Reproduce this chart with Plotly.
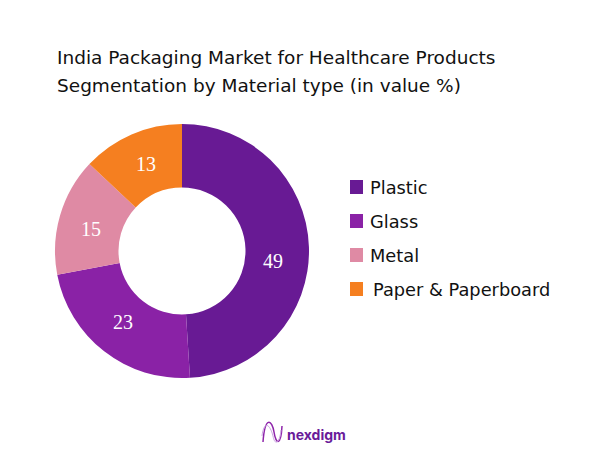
import plotly.graph_objects as go

title_lines = ["India Packaging Market for Healthcare Products",
               "Segmentation by Material type (in value %)"]
materials = ["Plastic", "Glass", "Metal", "Paper & Paperboard"]
shares = [49, 23, 15, 13]
colors = ["#681A94", "#8A22A6", "#DF8AA4", "#F57F20"]

W, H = 602, 451
PAGE_MARGIN = 8  # the page body pushes the plot 8px right and down
TEXT_FONT = "DejaVu Sans"


def px(x):
    return (x - PAGE_MARGIN) / W


def py(y):
    return 1 - (y - PAGE_MARGIN) / H


fig = go.Figure(go.Pie(
    labels=materials,
    values=shares,
    sort=False,
    direction="clockwise",
    rotation=0,
    hole=0.5,
    marker=dict(colors=colors, line=dict(width=0)),
    textinfo="none",
    domain=dict(x=[px(55), px(309)], y=[py(378), py(124)]),
    showlegend=False,
))

# two annotations so the line gap can match
for line, ly in zip(title_lines, [58, 85]):
    fig.add_annotation(text=line, x=px(55), y=py(ly), xref="paper", yref="paper",
                       xanchor="left", yanchor="middle", showarrow=False,
                       font=dict(family=TEXT_FONT, size=18.5, color="#111111"))

# value labels sit off the slice centres in the original
label_x = [273, 123, 91, 146]
label_y = [261, 322, 229, 164]
for share, lx, ly in zip(shares, label_x, label_y):
    fig.add_annotation(text=str(share), x=px(lx), y=py(ly), xref="paper", yref="paper",
                       xanchor="center", yanchor="middle", showarrow=False,
                       font=dict(family="Liberation Serif", size=20, color="white"))

# hand-made legend, the rows are further apart than a plotly legend allows
legend_y = [187, 221, 255, 289]
legend_x = [368, 368, 368, 371]
for name, color, ly, lx in zip(materials, colors, legend_y, legend_x):
    fig.add_shape(type="rect", xref="paper", yref="paper",
                  x0=px(350), x1=px(363), y0=py(ly + 7), y1=py(ly - 7),
                  fillcolor=color, line=dict(width=0))
    fig.add_annotation(text=name, x=px(lx), y=py(ly), xref="paper", yref="paper",
                       xanchor="left", yanchor="middle", showarrow=False,
                       font=dict(family=TEXT_FONT, size=17.8, color="#111111"))

# logo
fig.add_annotation(text="<b>nexdigm</b>", x=px(285), y=py(434), xref="paper", yref="paper",
                   xanchor="left", yanchor="middle", showarrow=False,
                   font=dict(family="Inter", size=14, color="#6A1B9A"))
fig.add_shape(type="path", xref="paper", yref="paper",
              path=f"M {px(263)} {py(442)} C {px(265)} {py(415)}, {px(272)} {py(420)}, {px(274)} {py(432)}"
                   f" C {px(276)} {py(445)}, {px(281)} {py(446)}, {px(282)} {py(426)}",
              line=dict(color="#8E24AA", width=1.5))
fig.add_shape(type="path", xref="paper", yref="paper",
              path=f"M {px(262)} {py(436)} C {px(264)} {py(420)}, {px(270)} {py(424)}, {px(273)} {py(436)}"
                   f" C {px(275)} {py(447)}, {px(280)} {py(442)}, {px(281)} {py(430)}",
              line=dict(color="#C9A2E0", width=1))

fig.update_layout(
    width=W, height=H,
    margin=dict(l=0, r=0, t=0, b=0),
    paper_bgcolor="white",
)

fig.write_html("out.html")
